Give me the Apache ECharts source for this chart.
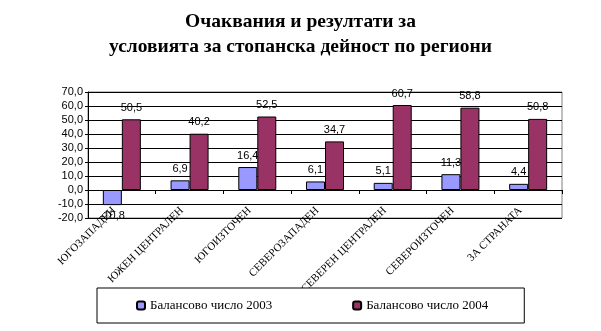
<!DOCTYPE html>
<html>
<head>
<meta charset="utf-8">
<script src="https://cdn.jsdelivr.net/npm/echarts@6/dist/echarts.min.js"></script>
<style>
  html, body { margin: 0; padding: 0; background: #fff; }
  #chart { width: 601px; height: 331px; }
</style>
</head>
<body>
<div id="chart"></div>
<script>
// Regions and balance values (Балансово число) for 2003 and 2004
const regions = ['ЮГОЗАПАДЕН', 'ЮЖЕН ЦЕНТРАЛЕН', 'ЮГОИЗТОЧЕН', 'СЕВЕРОЗАПАДЕН', 'СЕВЕРЕН ЦЕНТРАЛЕН', 'СЕВЕРОИЗТОЧЕН', 'ЗА СТРАНАТА'];
const balance2003 = [-10.8, 6.9, 16.4, 6.1, 5.1, 11.3, 4.4];
const balance2004 = [50.5, 40.2, 52.5, 34.7, 60.7, 58.8, 50.8];
const seriesNames = ['Балансово число 2003', 'Балансово число 2004'];
const yTicks = { min: -20, max: 70, step: 10 };

const fmt = v => Number(v).toFixed(1).replace('.', ',');

const labelFont = { fontFamily: 'Liberation Sans', fontSize: 11, color: '#000' };

function barData(values) {
  return values.map(v => v < 0
    ? { value: v, label: { position: 'bottom', distance: 5 } }
    : { value: v });
}

const chart = echarts.init(document.getElementById('chart'), null, { renderer: 'canvas' });
chart.setOption({
  animation: false,
  backgroundColor: '#fff',
  title: {
    text: 'Очаквания и резултати за\nусловията за стопанска дейност по региони',
    left: 'center',
    top: 9,
    padding: 0,
    textStyle: {
      fontFamily: 'Liberation Serif',
      fontWeight: 'bold',
      fontSize: 19.5,
      lineHeight: 25,
      color: '#000'
    }
  },
  grid: {
    left: 88, right: 39, top: 92, bottom: 113,
    show: true, borderColor: '#808080', borderWidth: 1
  },
  legend: {
    data: seriesNames,
    left: 97, top: 288,
    padding: [11, 36, 11, 39],
    itemGap: 80,
    itemWidth: 8, itemHeight: 8,
    borderColor: '#000', borderWidth: 1,
    backgroundColor: '#fff',
    z: 10,
    textStyle: { fontFamily: 'Liberation Serif', fontSize: 13, color: '#000' }
  },
  xAxis: {
    type: 'category',
    data: regions,
    axisLine: { onZero: true, lineStyle: { color: '#000', width: 1 } },
    axisTick: { show: true, length: 4, lineStyle: { color: '#000' } },
    axisLabel: {
      interval: 0,
      rotate: 45,
      margin: -17,
      padding: [0, 11, 0, 0],
      fontFamily: 'Liberation Serif',
      fontSize: 11,
      color: '#000'
    },
    z: 1
  },
  yAxis: {
    type: 'value',
    min: yTicks.min, max: yTicks.max, interval: yTicks.step,
    axisLine: { show: true, lineStyle: { color: '#000' } },
    axisTick: { show: true, length: 3, lineStyle: { color: '#000' } },
    splitLine: { show: true, lineStyle: { color: '#000', width: 1 } },
    axisLabel: {
      formatter: fmt,
      margin: 5,
      fontFamily: 'Liberation Sans', fontSize: 11, color: '#000'
    }
  },
  series: [
    {
      name: seriesNames[0],
      type: 'bar',
      data: barData(balance2003),
      barWidth: 19,
      barGap: '0%',
      itemStyle: { color: '#9999FF', borderColor: '#000', borderWidth: 1 },
      label: { show: true, position: 'top', distance: 6, formatter: p => fmt(p.value), ...labelFont },
      z: 3
    },
    {
      name: seriesNames[1],
      type: 'bar',
      data: barData(balance2004),
      barWidth: 19,
      barGap: '0%',
      itemStyle: { color: '#993366', borderColor: '#000', borderWidth: 1 },
      label: { show: true, position: 'top', distance: 6, formatter: p => fmt(p.value), ...labelFont },
      z: 3
    }
  ]
});
</script>
</body>
</html>
